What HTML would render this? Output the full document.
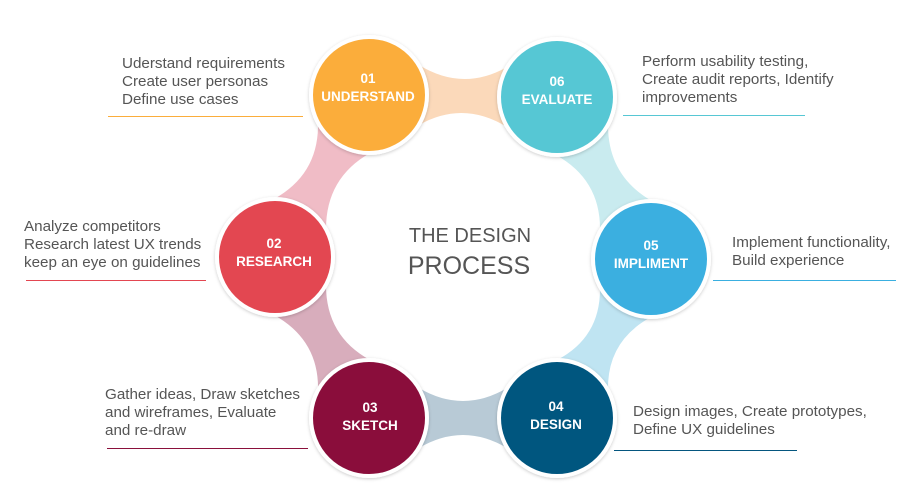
<!DOCTYPE html>
<html><head><meta charset="utf-8"><style>
html,body{margin:0;padding:0;background:#fff;}
body{width:917px;height:504px;position:relative;overflow:hidden;font-family:"Liberation Sans",sans-serif;}
.t{position:absolute;font-size:15.2px;line-height:18px;color:#555;white-space:nowrap;}
.l{position:absolute;height:1px;}
</style></head><body>
<svg width="917" height="504" style="position:absolute;left:0;top:0">
<defs><filter id="s" x="-20%" y="-20%" width="140%" height="140%"><feDropShadow dx="0" dy="1" stdDeviation="1.5" flood-color="#000" flood-opacity="0.2"/></filter></defs>
<path d="M419,65 Q463,92 507,67 L507,127 Q463,100 419,125 Z" fill="#FBD9BA"/>
<path d="M370,153 Q326,178 326,229 L274,199 Q319,174 318,123 Z" fill="#F0BCC6"/>
<path d="M608,125 Q608,176 652,201 L600,231 Q601,180 556,155 Z" fill="#C9EBEF"/>
<path d="M326,285 Q326,336 370,360 L318,390 Q319,340 274,315 Z" fill="#D8ADBC"/>
<path d="M651,317 Q607,341 608,390 L557,360 Q601,337 600,287 Z" fill="#BFE4F2"/>
<path d="M419,388 Q463,414 507,388 L507,448 Q463,422 419,448 Z" fill="#B8CAD6"/>
<g stroke="#fff" stroke-width="4" filter="url(#s)">
<circle cx="369" cy="95" r="58" fill="#FBAD3B"/>
<circle cx="557" cy="97" r="58" fill="#57C7D4"/>
<circle cx="275" cy="257" r="58" fill="#E34651"/>
<circle cx="651" cy="259" r="58" fill="#3AAFE0"/>
<circle cx="369" cy="418" r="58" fill="#8A103B"/>
<circle cx="557" cy="418" r="58" fill="#04567F"/>
</g>
<g fill="#fff" font-family="Liberation Sans Narrow, Liberation Sans, sans-serif" font-weight="bold" font-size="13.5" text-anchor="middle">
<text x="368" y="83">01</text><text x="368" y="101">UNDERSTAND</text>
<text x="557" y="86">06</text><text x="557" y="104">EVALUATE</text>
<text x="274" y="248">02</text><text x="274" y="266">RESEARCH</text>
<text x="651" y="250">05</text><text x="651" y="268">IMPLIMENT</text>
<text x="370" y="412">03</text><text x="370" y="430">SKETCH</text>
<text x="556" y="411">04</text><text x="556" y="429">DESIGN</text>
</g>
<text x="470" y="242" text-anchor="middle" font-size="20" fill="#555" font-family="Liberation Sans, sans-serif">THE DESIGN</text>
<text x="469" y="274" text-anchor="middle" font-size="25" fill="#555" font-family="Liberation Sans, sans-serif">PROCESS</text>
</svg>
<div class="t" style="left:122px;top:55px">Uderstand requirements<br>Create user personas<br>Define use cases</div>
<div class="l" style="left:108px;top:116px;width:195px;background:#FBAD3B"></div>
<div class="t" style="left:642px;top:53px">Perform usability testing,<br>Create audit reports, Identify<br>improvements</div>
<div class="l" style="left:623px;top:115px;width:182px;background:#57C7D4"></div>
<div class="t" style="left:24px;top:218px">Analyze competitors<br>Research latest UX trends<br>keep an eye on guidelines</div>
<div class="l" style="left:26px;top:280px;width:180px;background:#E34651"></div>
<div class="t" style="left:732px;top:234px">Implement functionality,<br>Build experience</div>
<div class="l" style="left:713px;top:280px;width:183px;background:#3AAFE0"></div>
<div class="t" style="left:105px;top:386px">Gather ideas, Draw sketches<br>and wireframes, Evaluate<br>and re-draw</div>
<div class="l" style="left:107px;top:448px;width:201px;background:#8A103B"></div>
<div class="t" style="left:633px;top:403px">Design images, Create prototypes,<br>Define UX guidelines</div>
<div class="l" style="left:614px;top:450px;width:183px;background:#04567F"></div>
</body></html>
